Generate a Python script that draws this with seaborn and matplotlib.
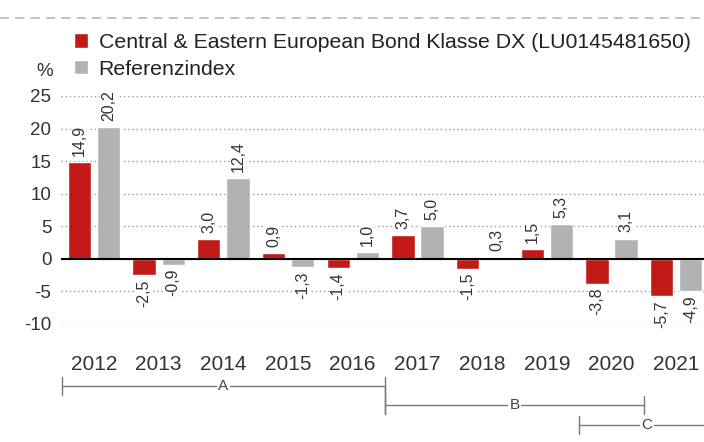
import pandas as pd
import matplotlib.pyplot as plt
import matplotlib.transforms as mtransforms
from matplotlib.lines import Line2D
import seaborn as sns

years = ['2012', '2013', '2014', '2015', '2016', '2017', '2018', '2019', '2020', '2021']
fund = [14.9, -2.5, 3.0, 0.9, -1.4, 3.7, -1.5, 1.5, -3.8, -5.7]
index = [20.2, -0.9, 12.4, -1.3, 1.0, 5.0, 0.3, 5.3, 3.1, -4.9]
series_names = ['Central & Eastern European Bond Klasse DX (LU0145481650)', 'Referenzindex']
yticks = [-10, -5, 0, 5, 10, 15, 20, 25]
# periods: label, first year, last year (None = open ended)
periods = [('A', '2012', '2016'), ('B', '2017', '2020'), ('C', '2020', None)]

red = '#c21b17'
grey = '#b1b2b4'
txt = '#333333'

df = pd.DataFrame({
    'Jahr': years * 2,
    'Serie': [series_names[0]] * len(years) + [series_names[1]] * len(years),
    'Wert': fund + index,
})

sns.set_style('white')
plt.rcParams['font.family'] = ['Liberation Sans', 'DejaVu Sans']

fig = plt.figure(figsize=(7.04, 4.42), dpi=100)
ax = fig.add_axes([61 / 704, 118 / 442, 643 / 704, 228 / 442])

sns.barplot(data=df, x='Jahr', y='Wert', hue='Serie', order=years, hue_order=series_names,
            palette=[red, grey], width=0.9, gap=0.2, saturation=1, ax=ax, legend=True)

ax.set_ylim(-10, 25)
ax.set_xlim(-0.51, 9.43)
ax.set_yticks(yticks)
ax.set_yticklabels([str(t) for t in yticks])
ax.set_xlabel('')
ax.set_ylabel('')
for s in ax.spines.values():
    s.set_visible(False)
ax.tick_params(axis='y', length=0, pad=7, labelsize=13.5, labelcolor=txt)
ax.tick_params(axis='x', length=0, pad=22, labelsize=15, labelcolor=txt)
ax.yaxis.grid(True, color='#9a9a9a', linestyle=(0, (1, 2)), linewidth=1)
ax.set_axisbelow(True)
ax.axhline(0, color='black', linewidth=1.5, zorder=3)

# value labels
for cont in ax.containers:
    for bar in cont:
        v = bar.get_height()
        xc = bar.get_x() + bar.get_width() / 2
        lab = f'{v:.1f}'.replace('.', ',')
        if v >= 0:
            ax.annotate(lab, (xc, v), xytext=(0, 4.5), textcoords='offset points',
                        rotation=90, ha='center', va='bottom', fontsize=11.5, color=txt,
                        bbox=dict(facecolor='white', edgecolor='none', pad=0.5), zorder=4)
        else:
            ax.annotate(lab, (xc, v), xytext=(0, -3), textcoords='offset points',
                        rotation=90, ha='center', va='top', fontsize=11.5, color=txt,
                        bbox=dict(facecolor='white', edgecolor='none', pad=0.5), zorder=4)

# legend
handles, labels = ax.get_legend_handles_labels()
ax.legend(handles, labels, loc='upper left', bbox_to_anchor=(74 / 704, 1 - 33 / 442),
          bbox_transform=fig.transFigure, frameon=False, fontsize=15.3,
          handlelength=0.66, handleheight=0.66, handletextpad=0.5, labelspacing=0.36,
          borderpad=0, borderaxespad=0, labelcolor='#222222')

fig.text(45 / 704, 1 - 72 / 442, '%', ha='center', va='center', fontsize=13.5, color=txt)

# top dashed rule
fig.add_artist(Line2D([0, 1], [1 - 18 / 442] * 2, transform=fig.transFigure,
                      color='#bdbdbd', linewidth=1.3, linestyle=(0, (5, 3.5))))

# period brackets
trans = mtransforms.blended_transform_factory(ax.transData, ax.transAxes)
rows = [-0.272, -0.355, -0.443]
tick = 0.04
lc = '#7a7a7a'
for (name, y0, y1), yr in zip(periods, rows):
    x0 = years.index(y0) - 0.5
    x1 = years.index(y1) + 0.5 if y1 else len(years) - 0.4
    ax.plot([x0, x1], [yr, yr], color=lc, lw=1, transform=trans, clip_on=False)
    ax.plot([x0, x0], [yr - tick, yr + tick], color=lc, lw=1, transform=trans, clip_on=False)
    if y1:
        ax.plot([x1, x1], [yr - tick, yr + tick], color=lc, lw=1, transform=trans, clip_on=False)
    ax.text((x0 + x1) / 2, yr, name, transform=trans, ha='center', va='center', fontsize=11,
            color='#444444', bbox=dict(facecolor='white', edgecolor='none', pad=1))
# A-to-B connector
xa = years.index(periods[0][2]) + 0.5
ax.plot([xa, xa], [rows[0], rows[1] - tick], color=lc, lw=1, transform=trans, clip_on=False)

fig.savefig('out.png', dpi=100)
